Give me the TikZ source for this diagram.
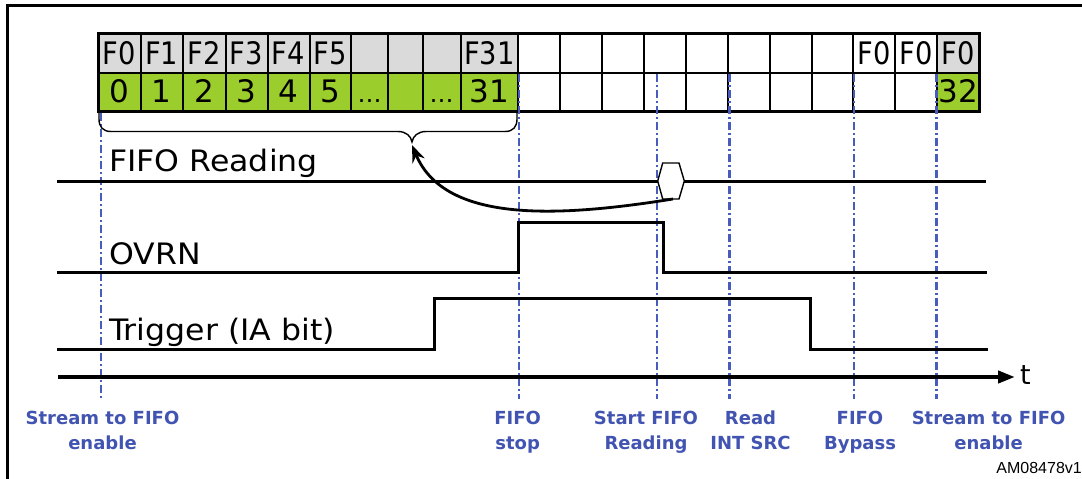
\documentclass[tikz,border=0pt]{standalone}
\usepackage{fontspec}
\setmainfont{DejaVu Sans}
\newfontfamily\cellfont[FakeStretch=0.88]{DejaVu Sans}
\newfontfamily\sigfont[FakeStretch=1.07]{DejaVu Sans}
\newfontfamily\amfont{Liberation Sans}
\usetikzlibrary{arrows.meta}
\definecolor{cellgreen}{RGB}{155,205,45}
\definecolor{cellgray}{RGB}{218,218,218}
\definecolor{lblblue}{RGB}{66,84,178}
\definecolor{dashblue}{RGB}{72,92,190}
\begin{document}
\begin{tikzpicture}[x=1pt,y=-1pt,
  sig/.style={line width=3pt, line join=miter},
  vmark/.style={dashblue, line width=2.3pt, dash pattern=on 8pt off 3pt on 2pt off 3pt},
  siglabel/.style={anchor=base west, inner sep=0pt, font=\sigfont\fontsize{29.5}{30}\selectfont},
  evlabel/.style={align=center, anchor=base, inner sep=0pt, text=lblblue, font=\bfseries\fontsize{18}{25}\selectfont},
  celltop/.style={anchor=base, inner sep=0pt, font=\cellfont\fontsize{31}{31}\selectfont},
  cellbot/.style={anchor=base, inner sep=0pt, font=\fontsize{31}{31}\selectfont},
  celldots/.style={anchor=base, inner sep=0pt, font=\fontsize{24}{24}\selectfont},
  gridline/.style={line width=2pt},
  frameline/.style={line width=2.5pt}
]
\useasboundingbox (0,0) rectangle (1082,479);
\fill[white] (0,0) rectangle (1082,479);

% frame
\draw[frameline] (7.3,482) -- (7.3,5.7) -- (1090,5.7);

% table fills
\fill[cellgray] (98,33.5) rectangle (518,72.5);
\fill[cellgray] (937,33.5) rectangle (979,72.5);
\fill[cellgreen] (98,72.5) rectangle (518,111.5);
\fill[cellgreen] (937,72.5) rectangle (979,111.5);

% grid
\foreach \x in {140.5,183,225.5,267.5,309.5,351,388,422.5,460.5,518,559.5,602,644,686,728,770,811.5,853,895,937}
  \draw[gridline] (\x,33.5) -- (\x,111.5);
\draw[gridline] (98,72.5) -- (979,72.5);
\draw[line width=3pt] (98,33.5) rectangle (979,111.5);

% top row labels
\foreach \c/\t [count=\i] in {119.25/F0,161.75/F1,204.25/F2,246.5/F3,288.5/F4,330.25/F5,489.25/F31,874/F0,916/F0,958/F0}
  \node[celltop] (top\i) at (\c,64.3) {\t};
% bottom row labels
\foreach \c/\t [count=\i] in {119.25/0,161.75/1,204.25/2,246.5/3,288.5/4,330.25/5,489.25/31,958/32}
  \node[cellbot] (bot\i) at (\c,102.7) {\t};
\node[celldots] (dotsA) at (369.5,102.7) {…};
\node[celldots] (dotsB) at (441.5,102.7) {…};

% event markers
\draw[vmark] (101,113) -- (101,399);
\foreach \x in {519,657,729.5,854,936.5}
  \draw[vmark] (\x,74) -- (\x,399);

% brace
\draw[line width=1.4pt] (99,112) -- (99,119) .. controls (99,127) and (103,131.5) .. (111,131.5)
  -- (398,131.5) .. controls (406,131.5) and (411,136) .. (412,142)
  .. controls (413,136) and (418,131.5) .. (426,131.5)
  -- (505,131.5) .. controls (513,131.5) and (517,127) .. (517,119) -- (517,112);
\coordinate (bracetip) at (412,145);

% FIFO Reading signal
\draw[sig] (57,181) -- (657.7,181);
\draw[line width=1.4pt, fill=white] (657.7,181) -- (662.7,163) -- (679,163) -- (684.3,181) -- (679,199) -- (662.7,199) -- cycle;
\draw[sig] (684.3,181) -- (986,181);
\coordinate (hexb) at (673,199);
\draw[line width=2.8pt, -{Stealth[length=17pt,width=13pt]}] (hexb) .. controls (560,217) and (445,224) .. (bracetip);

% OVRN signal
\draw[sig] (57,272) -- (518.5,272) -- (518.5,222) -- (663.5,222) -- (663.5,272) -- (987,272);
% Trigger signal
\draw[sig] (57,349) -- (434,349) -- (434,298) -- (810.5,298) -- (810.5,349) -- (988,349);

% time axis
\coordinate (tstart) at (58,377);
\coordinate (tend) at (1015,377);
\draw[line width=4pt, -{Triangle[length=17pt,width=12pt]}] (tstart) -- (tend);
\node[anchor=base west, inner sep=0pt, font=\fontsize{27}{27}\selectfont] (tlabel) at (1020,384) {t};

% signal labels
\node[siglabel] (lfifo) at (109,171.7) {FIFO Reading};
\node[siglabel] (lovrn) at (109,264) {OVRN};
\node[siglabel] (ltrig) at (109,340) {Trigger (IA bit)};

% event labels (base = last line baseline)
\node[evlabel] (e1) at (102.5,449) {Stream to FIFO\\enable};
\node[evlabel] (e2) at (517.6,449) {FIFO\\stop};
\node[evlabel] (e3) at (646,449) {Start FIFO\\Reading};
\node[evlabel] (e4) at (750.5,449) {Read\\INT SRC};
\node[evlabel] (e5) at (860,449) {FIFO\\Bypass};
\node[evlabel] (e6) at (988.6,449) {Stream to FIFO\\enable};

\node[anchor=base east, inner sep=0pt, font=\amfont\fontsize{16}{16}\selectfont] (am) at (1082,473.5) {AM08478v1};
\end{tikzpicture}
\end{document}
